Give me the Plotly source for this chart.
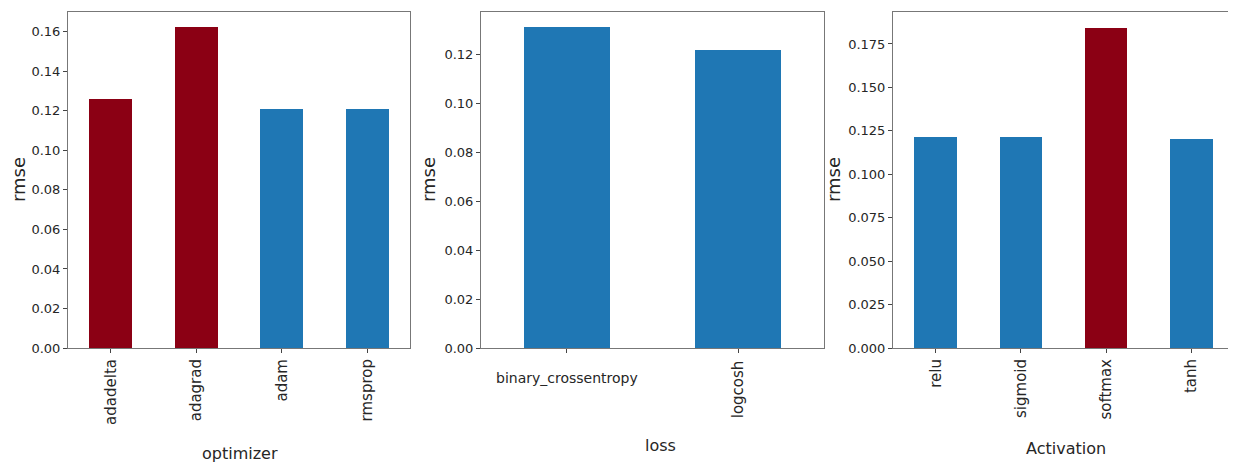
import plotly.graph_objects as go

# ---- data ----
optimizers = ["adadelta", "adagrad", "adam", "rmsprop"]
optimizer_rmse = [0.126, 0.1624, 0.1208, 0.1208]

losses = ["binary_crossentropy", "logcosh"]
loss_rmse = [0.131, 0.1218]

activations = ["relu", "sigmoid", "softmax", "tanh"]
activation_rmse = [0.1217, 0.1217, 0.1844, 0.1201]

BLUE = "#1f77b4"
RED = "#8b0014"
optimizer_colors = [RED, RED, BLUE, BLUE]
loss_colors = [BLUE, BLUE]
activation_colors = [BLUE, BLUE, RED, BLUE]

PAGE_W, PAGE_H = 1236, 470
OFF = 8  # page body margin offset
W, H = PAGE_W - OFF, PAGE_H - OFF
FONT = "DejaVu Sans"
TXT = "#262626"
AXC = "#777777"

def px_x(p):
    return (p - OFF) / W

def px_y(p):
    return 1 - (p - OFF) / H

fig = go.Figure()
fig.add_trace(go.Bar(x=optimizers, y=optimizer_rmse, marker_color=optimizer_colors,
                     marker_line_width=0, width=0.5, xaxis="x", yaxis="y", showlegend=False))
fig.add_trace(go.Bar(x=losses, y=loss_rmse, marker_color=loss_colors,
                     marker_line_width=0, width=0.5, xaxis="x2", yaxis="y2", showlegend=False))
fig.add_trace(go.Bar(x=activations, y=activation_rmse, marker_color=activation_colors,
                     marker_line_width=0, width=0.5, xaxis="x3", yaxis="y3", showlegend=False))

ydom = [px_y(348), px_y(12)]
common_axis = dict(showline=True, linecolor=AXC, linewidth=1, mirror=True,
                   showgrid=False, zeroline=False, ticks="outside", ticklen=4,
                   tickcolor="#444", tickwidth=1)

xfont = dict(family=FONT, size=15, color=TXT)
hfont = dict(family=FONT, size=14, color=TXT)
yfont = dict(family=FONT, size=13, color=TXT)

fig.update_layout(
    width=W, height=H,
    margin=dict(l=0, r=0, t=0, b=0),
    paper_bgcolor="white", plot_bgcolor="white",
    font=dict(family=FONT, color=TXT),
    bargap=0,
    xaxis=dict(domain=[px_x(68), px_x(410)], range=[-0.5, 3.5], tickangle=-90,
               tickfont=xfont, anchor="y", automargin=False, **common_axis),
    yaxis=dict(domain=ydom, range=[0, 0.170], tickvals=[0, 0.02, 0.04, 0.06, 0.08, 0.10, 0.12, 0.14, 0.16],
               tickformat=".2f", tickfont=yfont, anchor="x", automargin=False, **common_axis),
    xaxis2=dict(domain=[px_x(481), px_x(824)], range=[-0.5, 1.5], showticklabels=False,
                anchor="y2", automargin=False, **common_axis),
    yaxis2=dict(domain=ydom, range=[0, 0.1373], tickvals=[0, 0.02, 0.04, 0.06, 0.08, 0.10, 0.12],
                tickformat=".2f", tickfont=yfont, anchor="x2", automargin=False, **common_axis),
    xaxis3=dict(domain=[px_x(893), px_x(1234)], range=[-0.5, 3.5], tickangle=-90,
                tickfont=xfont, anchor="y3", automargin=False, **common_axis),
    yaxis3=dict(domain=ydom, range=[0, 0.1934], tickvals=[0, 0.025, 0.05, 0.075, 0.10, 0.125, 0.15, 0.175],
                tickformat=".3f", tickfont=yfont, anchor="x3", automargin=False, **common_axis),
)

ann = []
# tick labels of the loss panel (one horizontal, one rotated, as in the original)
ann.append(dict(x=losses[0], y=px_y(368), xref="x2", yref="paper", text=losses[0],
                showarrow=False, xanchor="center", yanchor="top", font=hfont))
ann.append(dict(x=losses[1], y=px_y(358), xref="x2", yref="paper", text=losses[1],
                showarrow=False, xanchor="center", yanchor="top", textangle=-90, font=xfont))
# axis titles
tfont = dict(family=FONT, size=16, color=TXT)
ann.append(dict(x=px_x(240), y=px_y(453), xref="paper", yref="paper", text="optimizer",
                showarrow=False, xanchor="center", yanchor="middle", font=tfont))
ann.append(dict(x=px_x(660), y=px_y(445), xref="paper", yref="paper", text="loss",
                showarrow=False, xanchor="center", yanchor="middle", font=tfont))
ann.append(dict(x=px_x(1066), y=px_y(448), xref="paper", yref="paper", text="Activation",
                showarrow=False, xanchor="center", yanchor="middle", font=tfont))
yt = dict(family=FONT, size=18, color=TXT)
for xp in (18, 428, 833):
    ann.append(dict(x=px_x(xp), y=px_y(180), xref="paper", yref="paper", text="rmse",
                    showarrow=False, xanchor="center", yanchor="middle", textangle=-90, font=yt))
fig.update_layout(annotations=ann)

fig.write_html("out.html")
